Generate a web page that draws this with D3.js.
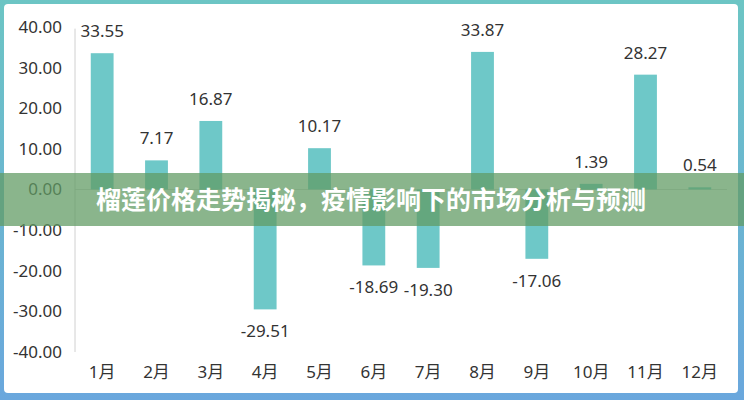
<!DOCTYPE html>
<html>
<head>
<meta charset="utf-8">
<script src="https://cdn.jsdelivr.net/npm/d3@7/dist/d3.min.js"></script>
<style>
  html, body { margin: 0; padding: 0; background: #fff; }
  svg { display: block; }
  text { font-family: "Noto Sans", "Noto Sans CJK SC", sans-serif; }
</style>
</head>
<body>
<svg id="chart" width="744" height="400"></svg>
<script>
const months = ["1月","2月","3月","4月","5月","6月","7月","8月","9月","10月","11月","12月"];
const values = [33.55, 7.17, 16.87, -29.51, 10.17, -18.69, -19.30, 33.87, -17.06, 1.39, 28.27, 0.54];
const yTicks = [-40, -30, -20, -10, 0, 10, 20, 30, 40];
const title = "榴莲价格走势揭秘，疫情影响下的市场分析与预测";

const W = 744, H = 400;
const fmt = d3.formatLocale({ decimal: ".", thousands: ",", grouping: [3], currency: ["", ""], minus: "-" }).format(".2f");

const svg = d3.select("#chart");
const defs = svg.append("defs");
const grad = defs.append("linearGradient").attr("id", "frame").attr("x1", 0).attr("y1", 0).attr("x2", 0).attr("y2", 1);
grad.append("stop").attr("offset", "0%").attr("stop-color", "#6cc5c4");
grad.append("stop").attr("offset", "100%").attr("stop-color", "#6aa7dd");

svg.append("rect").attr("x", 0).attr("y", 0).attr("width", W).attr("height", H).attr("fill", "url(#frame)");
svg.append("rect").attr("x", 4).attr("y", 4).attr("width", W - 10).attr("height", H - 11).attr("rx", 4).attr("fill", "#ffffff");

const x = d3.scaleBand().domain(months).range([75, 727]).paddingInner(0.58).paddingOuter(0.29);
const y = d3.scaleLinear().domain([-40, 40]).range([352, 27]);

// zero line
svg.append("line")
  .attr("x1", 75).attr("x2", 727)
  .attr("y1", y(0)).attr("y2", y(0))
  .attr("stroke", "#d9d9d9").attr("stroke-width", 1);

// y axis
const yAxis = d3.axisLeft(y).tickValues(yTicks).tickSize(0).tickPadding(13).tickFormat(fmt);
const gy = svg.append("g").attr("transform", "translate(75,0)").call(yAxis);
gy.select(".domain").attr("stroke", "#d0d0d0").attr("d", `M0,${y(39.6)}V${y(-40)}`);
gy.selectAll("text").attr("font-size", 17).attr("fill", "#333").attr("font-family", "Noto Sans, Noto Sans CJK SC, sans-serif");

// x axis labels
const xAxis = d3.axisBottom(x).tickSize(0).tickPadding(14);
const gx = svg.append("g").attr("transform", `translate(0,${352})`).call(xAxis);
gx.select(".domain").remove();
gx.selectAll("text").attr("font-size", 17).attr("fill", "#333").attr("font-family", "Noto Sans, Noto Sans CJK SC, sans-serif");

// bars
const data = months.map((m, i) => ({ m, v: values[i] }));
svg.append("g").selectAll("rect").data(data).join("rect")
  .attr("x", d => x(d.m))
  .attr("width", x.bandwidth())
  .attr("y", d => Math.min(y(d.v), y(0)))
  .attr("height", d => Math.abs(y(d.v) - y(0)))
  .attr("fill", "#6ec8c8");

// value labels
svg.append("g").selectAll("text").data(data).join("text")
  .attr("x", d => x(d.m) + x.bandwidth() / 2)
  .attr("y", d => d.v >= 0 ? y(d.v) - 22 : y(d.v) + 22)
  .attr("dy", "0.35em")
  .attr("text-anchor", "middle")
  .attr("font-size", 17)
  .attr("fill", "#333")
  .text(d => fmt(d.v));

// banner
svg.append("rect").attr("x", 0).attr("y", 173).attr("width", W).attr("height", 53)
  .attr("fill", "rgb(97,155,100)").attr("fill-opacity", 0.74);
svg.append("text")
  .attr("x", 371).attr("y", 200).attr("dy", "0.35em")
  .attr("text-anchor", "middle")
  .attr("font-family", "Noto Sans CJK SC, sans-serif")
  .attr("font-weight", "bold")
  .attr("font-size", 25)
  .attr("fill", "#ffffff")
  .text(title);
</script>
</body>
</html>
